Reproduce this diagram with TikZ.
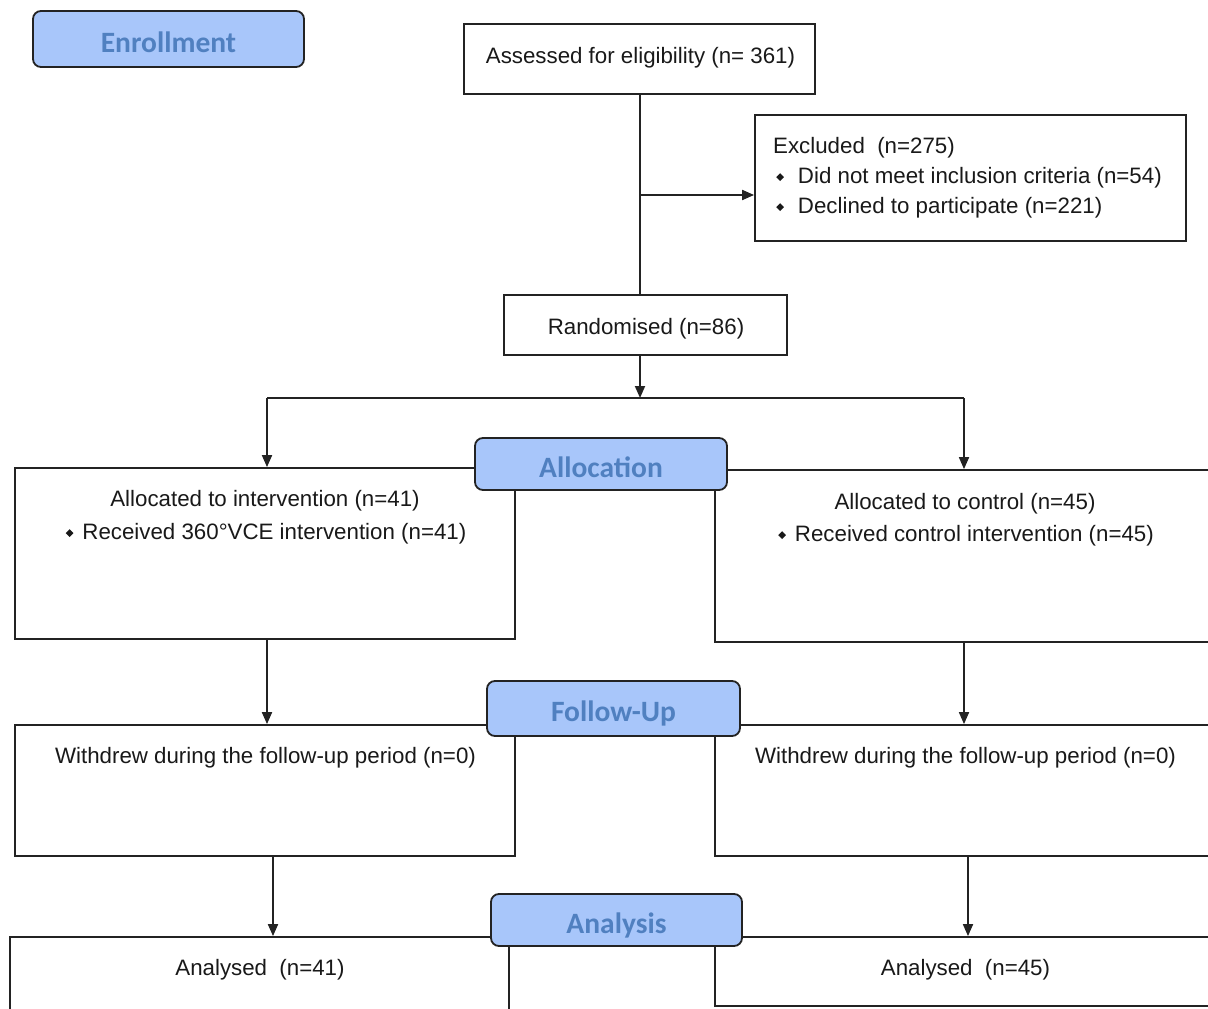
\documentclass[tikz,border=0pt]{standalone}
\usepackage{fontspec}
\setmainfont{Liberation Sans}
\newfontfamily\labfont{Carlito}
\usepackage{graphicx}
\usetikzlibrary{arrows.meta}
\definecolor{labfill}{RGB}{168,198,250}
\definecolor{labtext}{RGB}{80,128,192}
\definecolor{boxline}{RGB}{35,35,35}
\newcommand\dia{\raisebox{2pt}{\rotatebox{45}{\rule{5.5pt}{5.5pt}}}}
\tikzset{
  box/.style={draw=boxline, line width=1.8pt, fill=white, inner sep=0pt},
  stagelab/.style={draw=boxline, line width=1.8pt, fill=labfill, rounded corners=8pt,
    inner sep=0pt, text=labtext, font=\labfont\bfseries\fontsize{29.5}{32}\selectfont,
    text height=26pt, text depth=0pt},
  txt/.style={anchor=base, inner sep=0pt, font=\fontsize{22.3}{26}\selectfont, text=black!90},
  ln/.style={draw=boxline, line width=1.8pt},
  arr/.style={ln, -{Triangle[length=12pt,width=10pt]}}
}
\begin{document}
\begin{tikzpicture}[x=1pt,y=-1pt]
\useasboundingbox (0,0) rectangle (1208,1009);
\clip (0,0) rectangle (1208,1009);
\fill[white] (0,0) rectangle (1208,1009);
% boxes
\node[box, minimum width=351pt, minimum height=70pt] (assess) at (639.5,59) {};
\node[box, minimum width=431pt, minimum height=126pt] (excl) at (970.5,178) {};
\node[box, minimum width=283pt, minimum height=60pt] (rand) at (645.5,325) {};
\node[box, minimum width=500pt, minimum height=171pt] (allocL) at (265,553.5) {};
\node[box, minimum width=500pt, minimum height=172pt] (allocR) at (965,556) {};
\node[box, minimum width=500pt, minimum height=131pt] (fuL) at (265,790.5) {};
\node[box, minimum width=500pt, minimum height=131pt] (fuR) at (965,790.5) {};
\node[box, minimum width=499pt, minimum height=143pt] (anL) at (259.5,1008.5) {};
\node[box, minimum width=500pt, minimum height=69pt] (anR) at (965,971.5) {};
% stage labels
\node[stagelab, minimum width=271pt, minimum height=56pt] (enr) at (168.5,39) {Enrollment};
\node[stagelab, minimum width=252pt, minimum height=52pt] (allocLab) at (601,464) {Allocation};
\node[stagelab, minimum width=253pt, minimum height=55pt] (fuLab) at (613.5,708.5) {Follow-Up};
\node[stagelab, minimum width=251pt, minimum height=52pt] (anLab) at (616.5,920) {Analysis};
% texts
\node[txt] (tAssess) at (640.5,63) {Assessed for eligibility (n= 361)};
\node[txt, anchor=base west] (tEx1) at (773,153) {Excluded\ \ (n=275)};
\node[txt, anchor=base west] (tEx2) at (776,183) {\dia\hspace{14pt}Did not meet inclusion criteria (n=54)};
\node[txt, anchor=base west] (tEx3) at (776,213) {\dia\hspace{14pt}Declined to participate (n=221)};
\node[txt] (tRand) at (646,334) {Randomised (n=86)};
\node[txt] (tAL1) at (265,506) {Allocated to intervention (n=41)};
\node[txt] (tAL2) at (266,539) {\dia\hspace{9pt}Received 360°VCE intervention (n=41)};
\node[txt] (tAR1) at (965,509) {Allocated to control (n=45)};
\node[txt] (tAR2) at (966,541) {\dia\hspace{9pt}Received control intervention (n=45)};
\node[txt] (tFL) at (265.5,763) {Withdrew during the follow-up period (n=0)};
\node[txt] (tFR) at (965.5,763) {Withdrew during the follow-up period (n=0)};
\node[txt] (tNL) at (260,975) {Analysed\ \ (n=41)};
\node[txt] (tNR) at (965.5,975) {Analysed\ \ (n=45)};
% connectors
\coordinate (mX) at (640,0);
\coordinate (brY) at (0,195);
\coordinate (br) at (mX |- brY);
\draw[ln] (mX |- assess.south) -- (mX |- rand.north);
\draw[arr] (br) -- (br -| excl.west);
\coordinate (sY) at (0,398);
\coordinate (sL) at (267,398);
\coordinate (sR) at (964,398);
\draw[arr] (mX |- rand.south) -- (mX |- sY);
\draw[ln] (sL) -- (sR);
\draw[arr] (sL) -- (sL |- allocL.north);
\draw[arr] (sR) -- (sR |- allocR.north);
\draw[arr] (allocL.south -| sL) -- (sL |- fuL.north);
\draw[arr] (allocR.south -| sR) -- (sR |- fuR.north);
\coordinate (dL) at (273,0);
\coordinate (dR) at (968,0);
\draw[arr] (fuL.south -| dL) -- (dL |- anL.north);
\draw[arr] (fuR.south -| dR) -- (dR |- anR.north);
\end{tikzpicture}
\end{document}
